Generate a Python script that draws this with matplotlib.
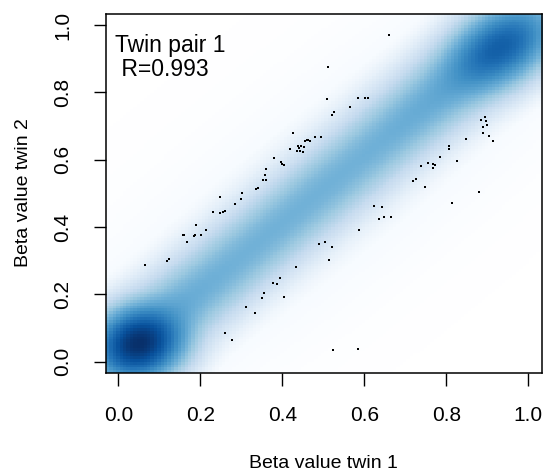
import numpy as np
import matplotlib
matplotlib.use("Agg")
import matplotlib.pyplot as plt
from matplotlib.colors import LinearSegmentedColormap

plt.rcParams['font.family'] = ['Liberation Sans', 'DejaVu Sans']

# ---- outlier points (beta twin 1, beta twin 2) ----
pts_x = [0.065, 0.1195, 0.1244, 0.1577, 0.1593, 0.1683, 0.1846, 0.1878, 0.1894, 0.2016,
         0.2138, 0.2309, 0.2480, 0.2488, 0.2561, 0.2593, 0.2854, 0.3000, 0.3008, 0.3350,
         0.3398, 0.3528, 0.3593, 0.3577, 0.3610, 0.3789, 0.3976, 0.4000, 0.4049, 0.4179,
         0.4252, 0.4358, 0.4382, 0.4415, 0.4447, 0.4431, 0.4512, 0.4537, 0.4561, 0.4593,
         0.4634, 0.4675, 0.4805, 0.4951, 0.5098, 0.5106, 0.5211, 0.5252, 0.5650, 0.5846,
         0.6024, 0.6081, 0.6602,
         0.2602, 0.2780, 0.3106, 0.3333, 0.3496, 0.3561, 0.3780, 0.3870, 0.3935, 0.4041,
         0.4325, 0.4902, 0.5041, 0.5138, 0.5203, 0.5236, 0.5854, 0.5862, 0.6236, 0.6358,
         0.6423, 0.6488, 0.6642, 0.7187, 0.7268, 0.7390, 0.7488, 0.7553, 0.7683, 0.7683,
         0.7724, 0.7854, 0.8057, 0.8065, 0.8130, 0.8252, 0.8472, 0.8797, 0.8837, 0.8886,
         0.8902, 0.8935, 0.8967, 0.9000, 0.9041, 0.9130]
pts_y = [0.286, 0.300, 0.306, 0.375, 0.377, 0.354, 0.373, 0.375, 0.405, 0.377,
         0.392, 0.445, 0.441, 0.488, 0.445, 0.448, 0.467, 0.482, 0.501, 0.513,
         0.516, 0.539, 0.540, 0.556, 0.573, 0.606, 0.592, 0.586, 0.583, 0.631,
         0.678, 0.627, 0.640, 0.635, 0.642, 0.627, 0.624, 0.639, 0.657, 0.660,
         0.660, 0.657, 0.667, 0.668, 0.781, 0.876, 0.733, 0.743, 0.756, 0.782,
         0.782, 0.782, 0.971,
         0.086, 0.063, 0.163, 0.144, 0.188, 0.204, 0.235, 0.231, 0.249, 0.191,
         0.282, 0.348, 0.354, 0.301, 0.340, 0.035, 0.037, 0.391, 0.463, 0.423,
         0.459, 0.431, 0.431, 0.538, 0.544, 0.581, 0.518, 0.589, 0.586, 0.574,
         0.584, 0.608, 0.642, 0.631, 0.471, 0.596, 0.663, 0.503, 0.719, 0.697,
         0.678, 0.728, 0.715, 0.703, 0.671, 0.657]

# ---- density model: components (centre x, centre y, weight, sigma along diag, sigma across) ----
comp_x = [0.045, 0.935, 0.50,
          0.08, 0.14, 0.20, 0.26, 0.32, 0.38, 0.44, 0.50, 0.56, 0.62, 0.68, 0.74, 0.80, 0.86]
comp_y = [0.050, 0.940, 0.51,
          0.095, 0.155, 0.215, 0.275, 0.335, 0.395, 0.455, 0.515, 0.575, 0.635, 0.695, 0.755, 0.815, 0.87]
comp_w = [1.00, 0.50, 0.002,
          0.07, 0.06, 0.055, 0.05, 0.05, 0.05, 0.05, 0.05, 0.05, 0.05, 0.055, 0.06, 0.065, 0.07]
comp_sa = [0.055, 0.075, 0.4,
           0.06, 0.06, 0.06, 0.06, 0.06, 0.06, 0.06, 0.06, 0.06, 0.06, 0.06, 0.06, 0.06, 0.06]
comp_sp = [0.048, 0.048, 0.09,
           0.05, 0.05, 0.05, 0.05, 0.05, 0.05, 0.05, 0.05, 0.05, 0.05, 0.05, 0.05, 0.05, 0.05]

xlim = (-0.031, 1.033)
ylim = (-0.033, 1.033)

blues9 = ["#FFFFFF", "#F7FBFF", "#DEEBF7", "#C6DBEF", "#9ECAE1", "#6BAED6",
          "#4292C6", "#2171B5", "#08519C", "#08306B"]
cmap = LinearSegmentedColormap.from_list("smooth", blues9, N=256)

nb = 128
gx = np.linspace(xlim[0], xlim[1], nb)
gy = np.linspace(ylim[0], ylim[1], nb)
GX, GY = np.meshgrid(gx, gy)
dens = np.zeros_like(GX)
for cx, cy, w, sa, sp in zip(comp_x, comp_y, comp_w, comp_sa, comp_sp):
    dx = GX - cx
    dy = GY - cy
    u = (dx + dy) / np.sqrt(2)
    v = (dy - dx) / np.sqrt(2)
    dens += w * np.exp(-u**2 / (2 * sa**2) - v**2 / (2 * sp**2))
z = dens ** 0.25

fig = plt.figure(figsize=(5.43, 4.72), dpi=100)
ax = fig.add_axes([105.7 / 543, 1 - 372.7 / 472, (541.7 - 105.7) / 543, (372.7 - 14) / 472])
ax.imshow(z, origin='lower', extent=[xlim[0], xlim[1], ylim[0], ylim[1]],
          cmap=cmap, interpolation='nearest', aspect='auto', vmin=0, vmax=z.max())
ax.plot(pts_x, pts_y, 's', color='black', markersize=1.9, markeredgewidth=0)
ax.set_xlim(xlim)
ax.set_ylim(ylim)

ticks = [0.0, 0.2, 0.4, 0.6, 0.8, 1.0]
ax.set_xticks(ticks)
ax.set_yticks(ticks)
ax.set_xticklabels([f"{t:.1f}" for t in ticks])
ax.set_yticklabels([f"{t:.1f}" for t in ticks], rotation=90, va='center')
ax.tick_params(axis='both', direction='out', length=9, width=1.0, labelsize=15, pad=15, colors='black')
for s in ax.spines.values():
    s.set_linewidth(1.1)

fig.text(0.5 * (105.7 + 541.7) / 543, 1 - 463 / 472, "Beta value twin 1", ha='center', va='center', fontsize=14)
fig.text(23.3 / 543, 1 - 193 / 472, "Beta value twin 2", ha='center', va='center', rotation=90, fontsize=14)

ax.text(0.022, 0.945, "Twin pair 1\n R=0.993", transform=ax.transAxes, ha='left', va='top',
        fontsize=16.5, linespacing=1.05)

fig.savefig("out.png", dpi=100)
